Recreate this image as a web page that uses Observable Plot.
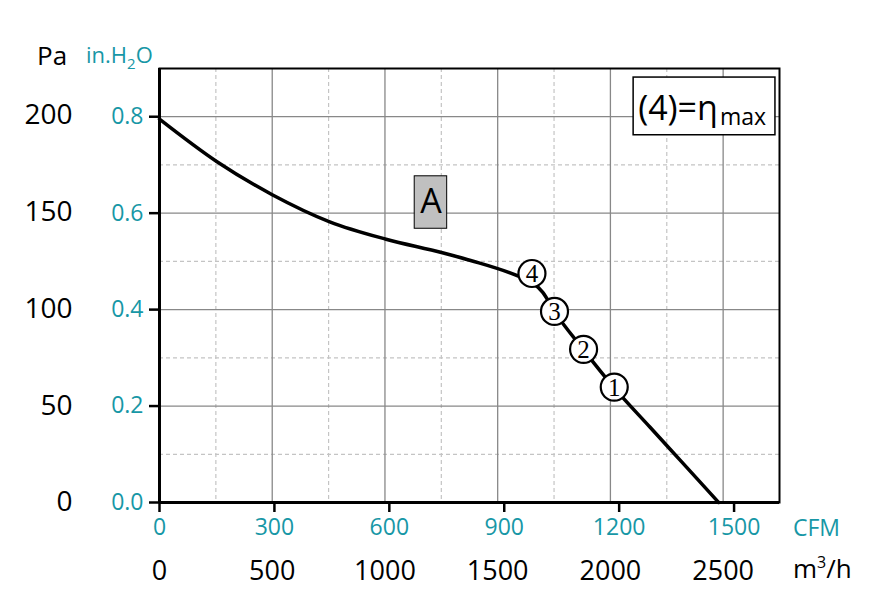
<!DOCTYPE html>
<html><head><meta charset="utf-8">
<script src="https://cdn.jsdelivr.net/npm/d3@7"></script>
<script src="https://cdn.jsdelivr.net/npm/@observablehq/plot@0.6"></script>
<style>body{margin:0;background:#fff} svg{display:block}</style>
</head><body><div id="chart"></div>
<script>
const PA_PER_INH2O = 249.089;
const M3H_PER_CFM = 1.699011;
const TEAL = "#1797a6";

// fan curve: airflow (m3/h) vs static pressure (Pa)
const flow     = [0, 255, 500, 755, 1005, 1255, 1380, 1600, 1655, 1700, 1750, 1880, 2015, 2175, 2265, 2385, 2480];
const pressure = [198, 176, 159, 145, 136, 129, 125, 116.5, 113.5, 108.5, 99, 79, 59.5, 39, 27.5, 12.2, 0];

// operating points
const pointLabels   = ["1", "2", "3", "4"];
const pointFlow     = [2017, 1881, 1752, 1652];
const pointPressure = [59.6, 79.1, 98.7, 118.3];

// ticks
const paTicks   = [0, 50, 100, 150, 200];
const inTicks   = [0, 0.2, 0.4, 0.6, 0.8];
const inMinor   = [0.1, 0.3, 0.5, 0.7];
const m3hTicks  = [0, 500, 1000, 1500, 2000, 2500];
const m3hMinor  = [250, 750, 1250, 1750, 2250];
const cfmTicks  = [0, 300, 600, 900, 1200, 1500];

// annotations (data units)
const curveName = ["A"];
const curveNameBox = [{x1: 1132, x2: 1276, y1: 141.4, y2: 168.5}];
const legendBox = [{x1: 2103, x2: 2732, y1: 189.7, y2: 219.5}];
const legendText = ["(4)=η", "max"];

const line = flow.map((f, i) => ({f, p: pressure[i]}));
const pts = pointLabels.map((t, i) => ({t, f: pointFlow[i], p: pointPressure[i]}));

const chart = Plot.plot({
  width: 894, height: 602,
  marginLeft: 159, marginRight: 115, marginTop: 68, marginBottom: 100,
  style: {fontFamily: "Open Sans", background: "white"},
  x: {domain: [0, 2750]},
  y: {domain: [0, 0.9 * PA_PER_INH2O]},
  marks: [
    Plot.ruleY(inMinor.map(v => v * PA_PER_INH2O), {stroke: "#c4c4c4", strokeWidth: 1.2, strokeDasharray: "4,3"}),
    Plot.ruleX(m3hMinor, {stroke: "#c4c4c4", strokeWidth: 1.2, strokeDasharray: "4,3"}),
    Plot.ruleY(inTicks.slice(1).map(v => v * PA_PER_INH2O), {stroke: "#888", strokeWidth: 1.3}),
    Plot.ruleX(m3hTicks.slice(1), {stroke: "#888", strokeWidth: 1.3}),
    Plot.frame({stroke: "black", strokeWidth: 2}),
    Plot.ruleX([0], {stroke: "black", strokeWidth: 3}),
    Plot.ruleY([0], {stroke: "black", strokeWidth: 3}),
    Plot.axisY(inTicks.map(v => v * PA_PER_INH2O), {tickSize: 10, tickPadding: 6, strokeWidth: 2.5, stroke: "black", fill: TEAL, fontSize: 23, tickFormat: d => (d / PA_PER_INH2O).toFixed(1), label: null}),
    Plot.axisY(paTicks, {tickSize: 0, tickPadding: 87, fill: "black", fontSize: 28, tickFormat: d => String(d), label: null}),
    Plot.axisX(cfmTicks.map(v => v * M3H_PER_CFM), {tickSize: 10, tickPadding: 6, strokeWidth: 2.5, stroke: "black", fill: TEAL, fontSize: 23, tickFormat: d => String(Math.round(d / M3H_PER_CFM)), label: null}),
    Plot.axisX(m3hTicks, {tickSize: 0, tickPadding: 58, fill: "black", fontSize: 27, tickFormat: d => String(d), label: null}),
    Plot.line(line, {x: "f", y: "p", stroke: "black", strokeWidth: 3.5, curve: "monotone-x"}),
    Plot.rect(curveNameBox, {x1: "x1", x2: "x2", y1: "y1", y2: "y2", fill: "#c0c0c0", stroke: "black", strokeWidth: 1}),
    Plot.text(curveNameBox, {x: d => (d.x1 + d.x2) / 2, y: d => (d.y1 + d.y2) / 2, text: () => curveName[0], fontSize: 34, fill: "black"}),
    Plot.rect(legendBox, {x1: "x1", x2: "x2", y1: "y1", y2: "y2", fill: "white", stroke: "black", strokeWidth: 1.5}),
    Plot.dot(pts, {x: "f", y: "p", r: 13.5, fill: "white", stroke: "black", strokeWidth: 2.2}),
    Plot.text(pts, {x: "f", y: "p", text: "t", fontFamily: "Liberation Serif", fontSize: 25, dy: 1, fill: "black"})
  ]
});

const svg = d3.select(chart);
const xs = chart.scale("x"), ys = chart.scale("y");

// legend text with subscript
const lb = legendBox[0];
const lt = svg.append("text")
  .attr("text-anchor", "start")
  .attr("x", xs.apply(lb.x1) + 5).attr("y", ys.apply(lb.y1) - 15)
  .attr("font-family", "Open Sans").attr("font-size", 34).attr("fill", "black");
lt.append("tspan").text(legendText[0]);
lt.append("tspan").attr("font-size", 23).attr("dy", 5).attr("dx", 2).text(legendText[1]);

// axis titles
svg.append("text").attr("text-anchor", "start").attr("x", 37).attr("y", 65).attr("font-family", "Open Sans").attr("font-size", 26).attr("fill", "black").text("Pa");
const ih = svg.append("text").attr("text-anchor", "start").attr("x", 86).attr("y", 63).attr("font-family", "Open Sans").attr("font-size", 22).attr("fill", TEAL);
ih.append("tspan").text("in.H");
ih.append("tspan").attr("font-size", 15).attr("dy", 6).text("2");
ih.append("tspan").attr("dy", -6).text("O");
svg.append("text").attr("text-anchor", "start").attr("x", 793).attr("y", 536).attr("font-family", "Open Sans").attr("font-size", 23).attr("fill", TEAL).text("CFM");
const mh = svg.append("text").attr("text-anchor", "start").attr("x", 793).attr("y", 578).attr("font-family", "Open Sans").attr("font-size", 26).attr("fill", "black");
mh.append("tspan").text("m");
mh.append("tspan").attr("font-size", 16).attr("dy", -10).text("3");
mh.append("tspan").attr("dy", 10).text("/h");

document.getElementById("chart").appendChild(chart);
</script>
</body></html>
